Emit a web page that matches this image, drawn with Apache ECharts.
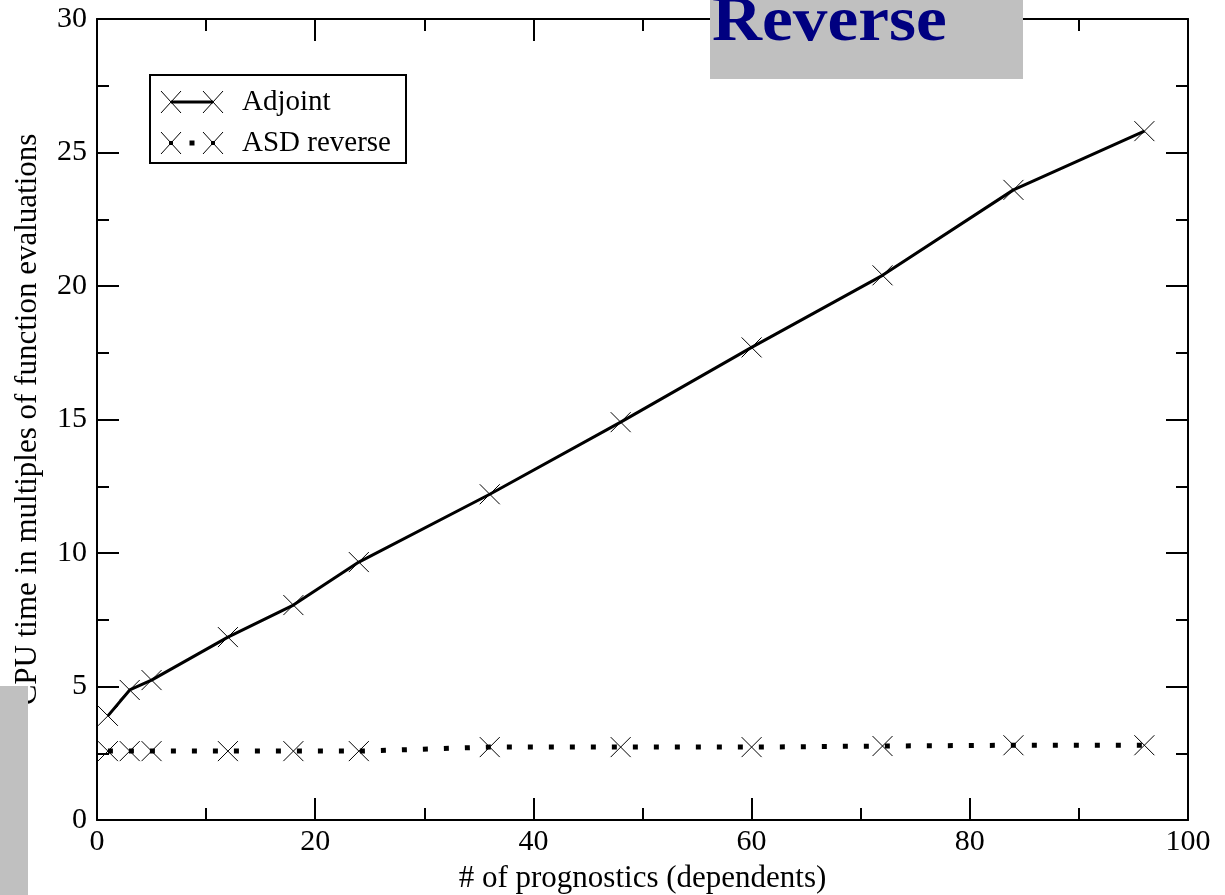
<!DOCTYPE html>
<html>
<head>
<meta charset="utf-8">
<script src="https://cdn.jsdelivr.net/npm/echarts@6/dist/echarts.min.js"></script>
<style>
  html, body { margin: 0; padding: 0; background: #fff; }
  #chart { width: 1225px; height: 895px; }
</style>
</head>
<body>
<div id="chart"></div>
<script>
// 数据
const prognostics = [1, 3, 5, 12, 18, 24, 36, 48, 60, 72, 84, 96]
const adjoint = [3.9, 4.87, 5.24, 6.85, 8.05, 9.66, 12.2, 14.9, 17.7, 20.4, 23.6, 25.8]
const asdReverse = [2.58, 2.58, 2.58, 2.58, 2.58, 2.58, 2.73, 2.73, 2.73, 2.77, 2.8, 2.8]

const serif = 'Liberation Serif'
const crossPath = 'path://M0,0L10,10M10,0L0,10'

const chartDom = document.getElementById('chart')
const myChart = echarts.init(chartDom)

const axisCommon = {
  axisLine: { show: true, onZero: false, lineStyle: { color: '#000', width: 2 } },
  axisTick: { show: true, inside: true, length: 22, lineStyle: { color: '#000', width: 2 } },
  minorTick: { show: true, splitNumber: 2, length: 12, lineStyle: { color: '#000', width: 2 } },
  splitLine: { show: false }
}

const markerStyle = {
  color: 'transparent',
  borderColor: '#000',
  borderWidth: 1
}

// 图例里的叉号
const cross = (cx, cy) => [
  { type: 'line', z: 10, shape: { x1: cx - 10, y1: cy - 11, x2: cx + 10, y2: cy + 11 }, style: { stroke: '#000', lineWidth: 1 } },
  { type: 'line', z: 10, shape: { x1: cx - 10, y1: cy + 11, x2: cx + 10, y2: cy - 11 }, style: { stroke: '#000', lineWidth: 1 } }
]

const option = {
  animation: false,
  grid: { left: 97, right: 37, top: 19, bottom: 75, outerBoundsMode: 'none' },
  xAxis: [
    {
      type: 'value',
      min: 0,
      max: 100,
      interval: 20,
      name: '# of prognostics (dependents)',
      nameLocation: 'middle',
      nameGap: 43,
      nameTextStyle: { fontFamily: serif, fontSize: 31, color: '#000' },
      axisLabel: { fontFamily: serif, fontSize: 30, color: '#000', margin: 7 },
      ...axisCommon
    },
    {
      type: 'value',
      position: 'top',
      min: 0,
      max: 100,
      interval: 20,
      axisLabel: { show: false },
      ...axisCommon
    }
  ],
  yAxis: [
    {
      type: 'value',
      min: 0,
      max: 30,
      interval: 5,
      name: 'CPU time in multiples of function evaluations',
      nameLocation: 'middle',
      nameGap: 54,
      nameTextStyle: { fontFamily: serif, fontSize: 31, color: '#000' },
      axisLabel: { fontFamily: serif, fontSize: 30, color: '#000', margin: 10 },
      ...axisCommon
    },
    {
      type: 'value',
      position: 'right',
      min: 0,
      max: 30,
      interval: 5,
      axisLabel: { show: false },
      ...axisCommon
    }
  ],
  series: [
    {
      name: 'Adjoint',
      type: 'line',
      data: prognostics.map((x, i) => [x, adjoint[i]]),
      symbol: crossPath,
      symbolSize: 20,
      showAllSymbol: true,
      itemStyle: markerStyle,
      lineStyle: { color: '#000', width: 3 },
      z: 3
    },
    {
      name: 'ASD reverse',
      type: 'line',
      data: prognostics.map((x, i) => [x, asdReverse[i]]),
      symbol: crossPath,
      symbolSize: 20,
      showAllSymbol: true,
      itemStyle: markerStyle,
      lineStyle: { color: '#000', width: 5, type: [5, 16], cap: 'butt' },
      z: 3
    }
  ],
  graphic: [
    // 图例
    {
      type: 'group',
      x: 150,
      y: 75,
      children: [
        { type: 'rect', z: 10, shape: { x: 0, y: 0, width: 256, height: 88 }, style: { fill: '#fff', stroke: '#000', lineWidth: 2 } },
        ...cross(21, 27),
        ...cross(63, 27),
        { type: 'line', z: 10, shape: { x1: 21, y1: 27, x2: 63, y2: 27 }, style: { stroke: '#000', lineWidth: 3 } },
        { type: 'text', z: 10, style: { x: 92, y: 27, text: 'Adjoint', fontFamily: serif, fontSize: 29, fill: '#000', verticalAlign: 'middle' } },
        ...cross(21, 68),
        ...cross(63, 68),
        { type: 'rect', z: 10, shape: { x: 39.5, y: 65.5, width: 5, height: 5 }, style: { fill: '#000' } },
        { type: 'rect', z: 10, shape: { x: 19, y: 66, width: 4, height: 4 }, style: { fill: '#000' } },
        { type: 'rect', z: 10, shape: { x: 61, y: 66, width: 4, height: 4 }, style: { fill: '#000' } },
        { type: 'text', z: 10, style: { x: 92, y: 68, text: 'ASD reverse', fontFamily: serif, fontSize: 29, fill: '#000', verticalAlign: 'middle' } }
      ]
    },
    // 顶部灰色标题框
    {
      type: 'group',
      x: 710,
      y: 0,
      children: [
        { type: 'rect', z: 20, shape: { x: 0, y: 0, width: 313, height: 79 }, style: { fill: '#c0c0c0' } },
        { type: 'text', z: 21, x: 2, y: -8, scaleX: 1.1, style: { x: 0, y: 0, text: 'Reverse', fontFamily: serif, fontWeight: 'bold', fontSize: 63, fill: '#000080', verticalAlign: 'top' } }
      ]
    },
    // 左下灰色块
    {
      type: 'rect',
      x: 0,
      y: 686,
      z: 20,
      shape: { x: 0, y: 0, width: 28, height: 209 },
      style: { fill: '#c0c0c0' }
    }
  ]
}

option && myChart.setOption(option)
</script>
</body>
</html>
